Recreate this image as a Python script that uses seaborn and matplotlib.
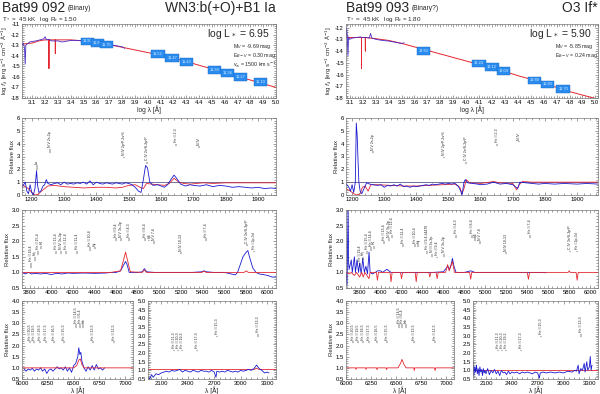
import numpy as np
import pandas as pd
import matplotlib
matplotlib.use("Agg")
import matplotlib.pyplot as plt
import seaborn as sns
from matplotlib.ticker import MultipleLocator, AutoMinorLocator, FormatStrFormatter

sns.set_theme(style="ticks")
plt.rcParams['font.family'] = ['Liberation Sans', 'DejaVu Sans']

RED = "#e3262f"
BLUE = "#1a1ad0"
SEDBLUE = "#4a2cc8"
BOX = "#2b8cf0"

# ---------------- data: SED panels (log lambda, log f) ----------------
sed_l_model_x = [3.02, 3.1, 3.15, 3.2, 3.23, 3.23, 3.23, 3.25, 3.28, 3.28, 3.28, 3.3, 3.4, 3.5, 3.6, 3.7,
                 3.8, 3.9, 4.0, 4.1, 4.2, 4.3, 4.4, 4.5, 4.6, 4.7, 4.8, 4.9, 5.0]
sed_l_model_y = [-12.9, -12.8, -12.6, -12.5, -12.5, -15.2, -12.5, -12.5, -12.5, -13.8, -12.5, -12.5, -12.5,
                 -12.6, -12.8, -12.95, -13.2, -13.45, -13.7, -13.95, -14.25, -14.55, -14.9, -15.25,
                 -15.6, -15.95, -16.3, -16.65, -17.0]
sed_l_obs_x = [3.02, 3.03, 3.04, 3.045, 3.05, 3.06, 3.08, 3.1, 3.13, 3.16, 3.19, 3.2, 3.21, 3.23, 3.25,
               3.3, 3.33, 3.36, 3.4, 3.45, 3.5, 3.55, 3.6, 3.65, 3.7, 3.75, 3.8, 3.82]
sed_l_obs_y = [-13.0, -12.8, -13.3, -14.8, -13.0, -12.9, -12.7, -12.65, -12.6, -12.5, -12.4, -12.2,
               -12.5, -12.45, -12.6, -12.6, -12.7, -12.65, -12.55, -12.55, -12.6, -12.7, -12.75,
               -12.85, -12.95, -13.05, -13.15, -13.3]
sed_l_box_x = [3.53, 3.61, 3.68, 4.08, 4.19, 4.3, 4.52, 4.62, 4.72, 4.88]
sed_l_box_y = [-12.65, -12.8, -12.95, -13.85, -14.2, -14.6, -15.35, -15.65, -16.0, -16.5]
sed_l_box_txt = ["11.90", "11.83", "11.75", "11.52", "11.47", "11.43", "11.38", "11.34", "11.27", "11.10"]

sed_r_model_x = [3.07, 3.1, 3.19, 3.19, 3.19, 3.2, 3.22, 3.22, 3.22, 3.3, 3.4, 3.5, 3.6, 3.7, 3.8, 3.9,
                 4.0, 4.1, 4.2, 4.3, 4.4, 4.5, 4.6, 4.7, 4.8, 4.9, 5.02]
sed_r_model_y = [-12.85, -12.85, -12.85, -15.5, -12.85, -12.85, -12.85, -14.0, -12.85, -12.95, -13.1,
                 -13.35, -13.65, -13.95, -14.25, -14.55, -14.85, -15.15, -15.45, -15.75, -16.1,
                 -16.4, -16.75, -17.1, -17.45, -17.75, -18.1]
sed_r_obs_x = [3.07, 3.075, 3.08, 3.085, 3.09, 3.1, 3.12, 3.15, 3.18, 3.2, 3.23, 3.25, 3.26, 3.27,
               3.3, 3.35, 3.4, 3.45, 3.5, 3.52]
sed_r_obs_y = [-12.9, -12.0, -12.7, -14.4, -12.8, -13.0, -12.9, -12.85, -12.8, -12.85, -12.85, -12.9,
               -12.5, -12.9, -13.0, -13.1, -13.15, -13.25, -13.35, -13.3]
sed_r_box_x = [3.67, 4.1, 4.2, 4.29, 4.53, 4.63, 4.75]
sed_r_box_y = [-14.0, -15.05, -15.35, -15.7, -16.5, -16.85, -17.25]
sed_r_box_txt = ["13.63", "13.24", "13.12", "13.04", "12.89", "12.83", "12.70"]

# ---------------- data: UV panels ----------------
uv_l_obs_x = [1170, 1180, 1185, 1190, 1195, 1200, 1205, 1210, 1215, 1218, 1222, 1228, 1235, 1240, 1245,
              1250, 1260, 1270, 1280, 1290, 1300, 1310, 1320, 1330, 1340, 1350, 1360, 1370, 1380,
              1390, 1400, 1410, 1420, 1430, 1440, 1450, 1460, 1470, 1480, 1490, 1500, 1510, 1520,
              1530, 1538, 1545, 1552, 1558, 1565, 1575, 1590, 1600, 1610, 1620, 1630, 1640, 1648,
              1660, 1675, 1690, 1700, 1720, 1740, 1760, 1780, 1800, 1820, 1840, 1860, 1880, 1900,
              1920, 1940, 1955]
uv_l_obs_y = [0.6, 1.0, 0.3, 0.1, 0.8, 0.2, 0.0, 0.5, 1.9, 0.8, 0.2, 0.3, 0.7, 0.8, 1.2,
              0.9, 0.8, 0.9, 0.95, 0.8, 1.0, 0.85, 0.9, 0.85, 0.95, 0.9, 1.0, 0.85, 1.1,
              0.8, 1.0, 0.9, 0.85, 0.95, 0.9, 0.85, 0.95, 0.9, 0.85, 0.95, 0.9, 0.8, 0.6,
              0.3, 0.2, 1.2, 2.3, 2.1, 1.0, 0.75, 0.8, 0.7, 0.6, 0.8, 1.2, 1.55, 1.3,
              0.85, 0.7, 0.8, 0.75, 0.7, 0.8, 0.65, 0.75, 0.7, 0.6, 0.65, 0.6, 0.55, 0.6,
              0.5, 0.55, 0.5]
uv_l_mod_x = [1170, 1190, 1200, 1210, 1220, 1230, 1240, 1250, 1270, 1300, 1330, 1360, 1400, 1430, 1460,
              1480, 1500, 1520, 1535, 1545, 1555, 1570, 1590, 1610, 1625, 1640, 1655, 1670, 1690,
              1710, 1730, 1760, 1800, 1850, 1900, 1955]
uv_l_mod_y = [0.8, 0.5, 0.2, 0.0, 0.05, 0.3, 0.5, 0.7, 0.75, 0.65, 0.6, 0.55, 0.6, 0.6, 0.55,
              0.6, 0.75, 0.8, 0.6, 0.5, 0.9, 0.85, 0.8, 0.75, 0.9, 1.3, 1.0, 0.9, 0.85,
              0.9, 0.95, 0.9, 0.95, 0.95, 0.95, 0.95]

uv_r_obs_x = [1181, 1190, 1195, 1200, 1205, 1210, 1213, 1216, 1218, 1221, 1225, 1230, 1237, 1245, 1255,
              1265, 1280, 1290, 1300, 1310, 1320, 1330, 1340, 1350, 1360, 1370, 1380, 1390, 1400,
              1410, 1420, 1430, 1440, 1450, 1460, 1470, 1480, 1490, 1500, 1510, 1520, 1530, 1538,
              1542, 1548, 1552, 1560, 1575, 1590, 1600, 1620, 1640, 1660, 1680, 1700, 1715, 1722,
              1740, 1760, 1780, 1800, 1830, 1860, 1900, 1930, 1965]
uv_r_obs_y = [0.9, 0.6, 0.3, 0.8, 0.2, 1.0, 5.6, 4.5, 3.0, 1.0, 0.3, 0.1, 0.5, 0.95, 0.85,
              0.8, 0.75, 0.8, 0.6, 0.75, 0.7, 0.8, 0.7, 0.85, 0.65, 0.7, 0.6, 0.7, 0.65,
              0.7, 0.75, 0.8, 0.75, 0.85, 0.8, 0.85, 0.9, 0.85, 0.9, 0.85, 0.9, 0.7, 0.3,
              0.0, 1.0, 1.2, 0.95, 0.9, 0.85, 0.8, 0.85, 1.0, 0.85, 0.9, 0.8, 0.5, 1.0,
              0.95, 0.9, 0.85, 0.9, 0.85, 0.9, 0.85, 0.9, 0.85]
uv_r_mod_x = [1181, 1195, 1205, 1215, 1225, 1232, 1240, 1250, 1258, 1280, 1320, 1360, 1400, 1440, 1480,
              1520, 1535, 1542, 1548, 1555, 1565, 1600, 1640, 1660, 1700, 1712, 1720, 1730, 1760,
              1800, 1900, 1965]
uv_r_mod_y = [0.5, 0.3, 0.1, 0.0, 0.1, 0.6, 0.7, 0.3, 0.8, 0.8, 0.75, 0.7, 0.7, 0.75, 0.8,
              0.85, 0.6, 0.1, 0.5, 1.2, 0.95, 0.9, 1.05, 0.95, 0.9, 0.4, 0.8, 1.05, 1.0,
              1.0, 1.0, 1.0]

# ---------------- data: optical panels ----------------
op_l_obs_x = [3730, 3760, 3790, 3820, 3850, 3900, 3950, 4000, 4050, 4100, 4150, 4200, 4300, 4400, 4500,
              4550, 4600, 4640, 4670, 4686, 4700, 4720, 4800, 4840, 4860, 4880, 4950, 5100, 5300,
              5390, 5411, 5430, 5500, 5600, 5660, 5700, 5720, 5740, 5770, 5800, 5815, 5830, 5860,
              5890, 5920, 5960, 6000, 6040, 6075]
op_l_obs_y = [1.0, 0.95, 1.0, 0.95, 0.97, 0.95, 0.97, 0.93, 0.97, 0.95, 0.98, 0.97, 0.98, 0.97, 0.98,
              1.0, 1.0, 1.05, 1.25, 1.35, 1.25, 1.0, 1.0, 1.02, 1.12, 1.02, 1.0, 1.0, 1.0,
              1.02, 1.05, 1.02, 1.0, 1.0, 0.95, 0.92, 1.0, 1.2, 1.5, 1.65, 1.7, 1.5, 1.15,
              1.0, 0.95, 0.93, 0.9, 0.85, 0.85]
op_l_mod_x = [3730, 4550, 4640, 4660, 4686, 4710, 4730, 4840, 4860, 4880, 5390, 5411, 5430, 5780, 5800,
              5820, 6075]
op_l_mod_y = [1.0, 1.0, 1.05, 1.3, 1.65, 1.3, 1.02, 1.0, 1.08, 1.0, 1.0, 1.04, 1.0, 1.0, 1.05,
              1.0, 1.0]

op_r_obs_x = [3670, 3680, 3690, 3695, 3700, 3720, 3730, 3750, 3760, 3775, 3790, 3800, 3815, 3830, 3845,
              3860, 3875, 3890, 3900, 3920, 3950, 3970, 4000, 4020, 4040, 4060, 4080, 4100, 4150,
              4200, 4300, 4400, 4500, 4600, 4630, 4640, 4655, 4670, 4686, 4700, 4720, 4800, 4860,
              4900, 5400, 5500, 5580]
op_r_obs_y = [1.0, 0.6, 3.1, 1.3, 1.1, 1.4, 1.0, 1.5, 1.0, 1.4, 1.0, 1.3, 0.95, 1.45, 1.0,
              1.2, 0.95, 1.65, 1.0, 0.95, 1.0, 1.05, 1.05, 1.0, 1.05, 1.1, 1.05, 1.0, 1.0,
              0.99, 1.0, 1.0, 1.0, 1.02, 1.15, 1.2, 1.1, 1.2, 1.45, 1.2, 1.0, 1.0, 1.05,
              1.0, 1.0, 1.0, 0.99]
op_r_mod_x = [3670, 3700, 3720, 3750, 3770, 3800, 3820, 3835, 3850, 3889, 3900, 3960, 3970, 3980, 4090,
              4100, 4110, 4190, 4200, 4210, 4330, 4340, 4350, 4460, 4470, 4480, 4530, 4540, 4550,
              4620, 4640, 4655, 4686, 4705, 4850, 4860, 4870, 5400, 5411, 5422, 5790, 5800, 5810,
              5866, 5876, 5886, 6075]
op_r_mod_y = [1.0, 0.95, 1.0, 0.9, 1.0, 0.85, 1.0, 0.85, 1.0, 0.8, 1.0, 1.0, 0.75, 1.0, 1.0,
              0.7, 1.0, 1.0, 0.8, 1.0, 1.0, 0.7, 1.0, 1.0, 0.85, 1.0, 1.0, 0.8, 1.0,
              1.0, 1.25, 1.05, 1.35, 1.0, 1.0, 0.78, 1.0, 1.0, 0.78, 1.0, 1.0, 1.05, 1.0,
              1.0, 0.75, 1.0, 1.0]

# ---------------- data: H-alpha panels ----------------
ha_l_obs_x = [6020, 6040, 6060, 6080, 6100, 6120, 6140, 6160, 6180, 6200, 6220, 6240, 6260, 6280, 6300,
              6320, 6340, 6360, 6380, 6400, 6420, 6440, 6460, 6480, 6500, 6520, 6540, 6550, 6560,
              6570, 6580, 6600, 6620, 6640, 6660, 6680, 6700, 6720, 6740, 6760, 6780, 6800]
ha_l_obs_y = [0.95, 0.85, 0.95, 0.9, 0.98, 0.85, 0.95, 0.9, 1.0, 0.85, 0.95, 0.75, 0.9, 0.95, 0.85,
              0.95, 1.05, 0.95, 1.0, 0.9, 1.05, 0.85, 1.0, 0.8, 1.1, 1.2, 1.5, 1.9, 1.6,
              1.7, 1.3, 1.0, 0.85, 1.05, 0.9, 1.1, 0.9, 1.15, 0.95, 1.0, 0.9, 1.0]
ha_l_mod_x = [6000, 6500, 6530, 6550, 6565, 6580, 6600, 7075]
ha_l_mod_y = [1.0, 1.0, 1.1, 1.35, 1.4, 1.15, 1.0, 1.0]

ha_r_mod_x = [6000, 6095, 6100, 6105, 6195, 6200, 6205, 6305, 6310, 6315, 6400, 6406, 6412, 6520, 6545,
              6560, 6575, 6600, 6678, 6683, 6688, 6885, 6891, 6897, 7080]
ha_r_mod_y = [1.0, 1.0, 0.93, 1.0, 1.0, 0.93, 1.0, 1.0, 0.92, 1.0, 1.0, 0.92, 1.0, 1.0, 1.2,
              1.38, 1.2, 1.0, 1.0, 0.88, 1.0, 1.0, 0.88, 1.0, 1.0]

# ---------------- data: near-IR panels ----------------
ir_l_obs_x = [1950, 1970, 1990, 2010, 2040, 2070, 2100, 2130, 2160, 2190, 2220, 2250, 2280, 2310, 2340,
              2370, 2400, 2430, 2460, 2490, 2520, 2550, 2580, 2610, 2640, 2670, 2700, 2720, 2730,
              2760, 2790, 2820, 2850, 2880, 2910, 2940, 2970, 3000, 3030, 3060, 3090, 3120, 3150,
              3180, 3210, 3240, 3270, 3300, 3320]
ir_l_obs_y = [0.6, 0.5, 0.75, 0.6, 0.8, 0.75, 0.85, 0.9, 0.95, 0.9, 1.0, 0.95, 1.0, 1.05, 0.9,
              1.0, 0.95, 0.9, 1.0, 0.95, 0.9, 1.0, 0.95, 0.95, 0.9, 1.0, 0.9, 0.6, 0.95,
              0.9, 0.95, 0.9, 1.0, 0.95, 0.9, 0.95, 0.9, 1.0, 0.95, 1.0, 1.05, 1.0, 1.1,
              1.3, 1.1, 1.0, 0.85, 0.9, 0.85]
ir_l_mod_x = [1950, 3150, 3180, 3210, 3400]
ir_l_mod_y = [1.05, 1.05, 1.12, 1.05, 1.05]

ir_r_obs_x = [1950, 1960, 1970, 1980, 1990, 2000, 2010, 2020, 2030, 2040, 2050, 2060, 2070, 2080, 2090,
              2100, 2120, 2140, 2160, 2180, 2200, 2220, 2240, 2260, 2280, 2300, 2320, 2340, 2360,
              2380, 2400, 2430, 2460, 2490, 2520, 2550, 2580, 2610, 2640, 2670, 2700, 2720, 2730,
              2760, 2800, 2850, 2900, 2950, 3000, 3050, 3100, 3130, 3150, 3170, 3180, 3200, 3220,
              3240, 3250, 3270, 3280, 3300, 3310, 3320, 3330]
ir_r_obs_y = [1.5, 0.7, 1.2, 0.9, 1.3, 0.8, 1.1, 0.7, 1.2, 0.9, 1.05, 0.7, 1.1, 0.85, 1.0,
              0.8, 1.1, 0.75, 1.0, 0.85, 1.05, 0.8, 0.95, 0.7, 1.0, 0.85, 0.9, 0.75, 0.95,
              0.8, 0.9, 0.85, 0.9, 0.8, 0.9, 0.85, 0.9, 0.85, 0.8, 0.9, 0.85, 0.55, 0.85,
              0.9, 0.85, 0.9, 0.85, 0.9, 0.85, 0.95, 0.9, 1.0, 0.95, 1.3, 0.8, 1.1, 1.0,
              1.4, 0.9, 1.5, 1.0, 1.2, 1.8, 1.0, 1.3]
ir_r_mod_x = [1950, 3400]
ir_r_mod_y = [1.0, 1.0]

# ---------------- line identifications (x, y line start, y text start, label) ----------------
uv_l_ids = [(1215, 1.95, 2.3, "Lα"), (1255, 3.3, 3.6, "N V 2s-2p"), (1486, 2.9, 3.0, "N IV 2p¹P-2s¹S"),
            (1555, 2.4, 2.6, "C IV 2s²S-2p²P"), (1645, 3.8, 4.0, "He II 2-3"), (1718, 3.7, 3.8, "N IV")]
uv_r_ids = [(1265, 3.3, 3.4, "N V 2s-2p"), (1486, 2.9, 3.0, "N IV 2p¹P-2s¹S"),
            (1555, 2.4, 2.6, "C IV 2s²S-2p²P"), (1650, 3.8, 4.0, "He II 2-3"), (1718, 4.1, 4.2, "N IV")]
op_l_ids = [(3813, 1.15, 1.3, "He II 19-4"), (3850, 1.35, 1.5, "Hη"), (3880, 1.55, 1.7, "He II 15-4"),
            (3910, 1.75, 1.85, "Hζ"), (4040, 1.6, 1.7, "He II 13-4"), (4090, 1.6, 1.7, "N IV 3s-3p"),
            (4140, 1.6, 1.7, "He II 12-4"), (4240, 1.6, 1.7, "He II 11-4"), (4360, 1.7, 1.8, "He II 10-4"),
            (4400, 1.75, 1.8, "Hγ"), (4600, 2.0, 2.1, "He II 9-4"), (4645, 2.0, 2.1, "N V 3s-3p"),
            (4720, 2.0, 2.1, "He II 4-3"), (4870, 2.0, 2.1, "He II 8-4"), (4905, 2.0, 2.05, "Hβ"),
            (4945, 1.9, 2.0, "N V 7-6"), (5200, 1.6, 1.65, "N IV 10-13"), (5425, 2.0, 2.1, "He II 7-4"),
            (5808, 1.85, 1.9, "C IV 3s²S-3p²P"), (5876, 1.65, 1.7, "He I 2p-3d")]
op_r_ids = [(3800, 1.2, 1.3, "He II 19-4"), (3830, 1.4, 1.5, "Hη"), (3870, 1.6, 1.7, "He II 15-4"),
            (3905, 1.7, 1.8, "He II 14-4"), (3935, 1.75, 1.85, "Hζ"), (4030, 1.9, 2.0, "He II 13-4"),
            (4080, 2.0, 2.1, "N IV 3s-3p"), (4110, 2.1, 2.2, "He II 12-4"), (4210, 1.8, 1.9, "He II 11-4"),
            (4330, 1.8, 1.9, "He II 10-4"), (4360, 1.8, 1.9, "Hγ"), (4440, 1.6, 1.7, "He II 9-4 λ4470"),
            (4490, 1.5, 1.6, "N III 3s-3p"), (4540, 1.45, 1.5, "He II 9-4"), (4605, 1.5, 1.6, "N V 3s-3p"),
            (4720, 2.1, 2.2, "He II 4-3"), (4870, 2.1, 2.2, "He II 8-4"), (4905, 2.0, 2.1, "Hβ"),
            (4945, 1.9, 2.0, "N V 7-6"), (5200, 1.6, 1.65, "N IV 10-13"), (5425, 2.1, 2.2, "He II 7-4"),
            (5808, 1.65, 1.7, "C IV 3s²S-3p²P"), (5876, 1.65, 1.7, "He I 2p-3d")]
ha_ids = [(6074, 2.1, 2.2, "He II 20-5"), (6118, 2.1, 2.2, "He II 19-5"), (6171, 2.1, 2.2, "He II 18-5"),
          (6233, 2.1, 2.2, "He II 17-5"), (6311, 2.1, 2.2, "He II 16-5"), (6406, 2.1, 2.2, "He II 15-5"),
          (6527, 2.8, 2.95, "He II 14-5"), (6560, 2.8, 2.95, "He II 6-4"), (6595, 2.8, 2.95, "Hα"),
          (6683, 2.1, 2.2, "He II 13-5"), (6891, 2.1, 2.2, "He II 12-5")]
ir_ids = [(2240, 2.1, 2.2, "He II 21-3"), (2285, 2.1, 2.2, "He II 20-3"), (2335, 2.1, 2.2, "He II 19-3"),
          (2510, 2.1, 2.2, "He II 17-3"), (2735, 2.9, 3.0, "He II 15-3"), (3200, 2.9, 3.1, "He II 13-3")]


def rect(x0, y0, x1, y1):
    return [x0 / 600, 1 - y1 / 394, (x1 - x0) / 600, (y1 - y0) / 394]


def line(ax, xs, ys, color, lw=0.6):
    df = pd.DataFrame({"x": xs, "y": ys})
    sns.lineplot(data=df, x="x", y="y", ax=ax, color=color, lw=lw,
                 estimator=None, sort=False)


def style(ax, xlim, ylim, xmaj, ymaj, xfmt, yfmt, ylabel=None, xlabel=None):
    ax.set_xlim(*xlim)
    ax.set_ylim(*ylim)
    ax.xaxis.set_major_locator(MultipleLocator(xmaj))
    ax.yaxis.set_major_locator(MultipleLocator(ymaj))
    ax.xaxis.set_minor_locator(AutoMinorLocator(5))
    ax.yaxis.set_minor_locator(AutoMinorLocator(5))
    ax.xaxis.set_major_formatter(FormatStrFormatter(xfmt))
    ax.yaxis.set_major_formatter(FormatStrFormatter(yfmt))
    ax.tick_params(which="both", direction="in", top=True, right=True, labelsize=4.3,
                   pad=1.5, width=0.4, colors="#555555", labelcolor="black")
    ax.tick_params(which="major", length=2.2)
    ax.tick_params(which="minor", length=1.1)
    for s in ax.spines.values():
        s.set_linewidth(0.5)
        s.set_color("#777777")
    ax.set_xlabel(xlabel if xlabel else "", fontsize=4.8, labelpad=0.5)
    ax.set_ylabel(ylabel if ylabel else "", fontsize=4.3, labelpad=1)


def ids(ax, items):
    for x, y0, y1, lab in items:
        ax.plot([x, x], [y0, y1], color="black", lw=0.35)
        ax.text(x, y1 + 0.02 * (ax.get_ylim()[1] - ax.get_ylim()[0]), lab, rotation=90, fontsize=2.5,
                ha="center", va="bottom")


fig = plt.figure(figsize=(6, 3.94), dpi=100)
renderer = fig.canvas.get_renderer()

stars = [
    dict(x0=22, x1=276, name="Bat99 092", note="(Binary)", sp="WN3:b(+O)+B1 Ia",
         params="T$_*$ =  45 kK   log R$_t$ = 1.50", logL="log L$_*$ = 6.95",
         extra=["M$_V$ = -9.69 mag", "E$_{B-V}$ = 0.30 mag", "v$_\\infty$ = 1500 km s$^{-1}$"],
         sed=(sed_l_model_x, sed_l_model_y, sed_l_obs_x, sed_l_obs_y, sed_l_box_x, sed_l_box_y, sed_l_box_txt),
         sedlim=((3.02, 5.0), (-18, -11)),
         uv=(uv_l_obs_x, uv_l_obs_y, uv_l_mod_x, uv_l_mod_y), uvlim=(1170, 1955), uvids=uv_l_ids,
         op=(op_l_obs_x, op_l_obs_y, op_l_mod_x, op_l_mod_y), oplim=(3730, 6075), opids=op_l_ids,
         ha=(ha_l_obs_x, ha_l_obs_y, ha_l_mod_x, ha_l_mod_y), halim=(6000, 7075),
         ir=(ir_l_obs_x, ir_l_obs_y, ir_l_mod_x, ir_l_mod_y), bsplit=(133, 148), tx=2),
    dict(x0=346, x1=598, name="Bat99 093", note="(Binary?)", sp="O3 If*",
         params="T$_*$ =  45 kK   log R$_t$ = 1.80", logL="log L$_*$ = 5.90",
         extra=["M$_V$ = -5.85 mag", "E$_{B-V}$ = 0.24 mag"],
         sed=(sed_r_model_x, sed_r_model_y, sed_r_obs_x, sed_r_obs_y, sed_r_box_x, sed_r_box_y, sed_r_box_txt),
         sedlim=((3.07, 5.02), (-18, -11.7)),
         uv=(uv_r_obs_x, uv_r_obs_y, uv_r_mod_x, uv_r_mod_y), uvlim=(1181, 1965), uvids=uv_r_ids,
         op=(op_r_obs_x, op_r_obs_y, op_r_mod_x, op_r_mod_y), oplim=(3670, 6075), opids=op_r_ids,
         ha=(None, None, ha_r_mod_x, ha_r_mod_y), halim=(6000, 7080),
         ir=(ir_r_obs_x, ir_r_obs_y, ir_r_mod_x, ir_r_mod_y), bsplit=(454, 473), tx=346),
]

for st in stars:
    x0, x1 = st["x0"], st["x1"]
    # header
    t = fig.text(st["tx"] / 600, 1 - 12 / 394, st["name"], fontsize=10, ha="left", va="baseline")
    tw = t.get_window_extent(renderer).x1
    fig.text((tw + 2) / 600, 1 - 10.5 / 394, st["note"], fontsize=4.8, ha="left", va="baseline")
    fig.text(x1 / 600, 1 - 12 / 394, st["sp"], fontsize=10, ha="right", va="baseline")
    fig.text(st["tx"] / 600, 1 - 20.5 / 394, st["params"], fontsize=4.5, ha="left", va="baseline")

    # SED
    ax = fig.add_axes(rect(x0, 24, x1, 98))
    mx, my, ox, oy, bx, by, bt = st["sed"]
    line(ax, mx, my, RED, 0.7)
    line(ax, ox, oy, SEDBLUE, 0.6)
    for xx, yy, tt in zip(bx, by, bt):
        ax.text(xx, yy, tt, fontsize=2.8, color="#dbeeff", ha="center", va="center",
                bbox=dict(boxstyle="square,pad=0.45", fc=BOX, ec="#1565c0", lw=0.3))
    style(ax, st["sedlim"][0], st["sedlim"][1], 0.1, 1, "%.1f", "%d",
          ylabel="log $f_\\lambda$ [erg s$^{-1}$ cm$^{-2}$ Å$^{-1}$]", xlabel="log λ [Å]")
    ax.text(0.975, 0.87, st["logL"], transform=ax.transAxes, fontsize=7.5, ha="right", va="center")
    for i, e in enumerate(st["extra"]):
        ax.text(0.83, 0.70 - i * 0.12, e, transform=ax.transAxes, fontsize=3.8, ha="left", va="center")

    # UV
    ax = fig.add_axes(rect(x0, 118, x1, 195))
    ax.axhline(1, color="#3a3a7a", lw=0.5)
    obx, oby, mdx, mdy = st["uv"]
    line(ax, mdx, mdy, RED, 0.6)
    line(ax, obx, oby, BLUE, 0.6)
    style(ax, st["uvlim"], (0, 6), 100, 1, "%d", "%d", ylabel="Relative flux")
    ids(ax, st["uvids"])

    # optical
    ax = fig.add_axes(rect(x0, 210, x1, 288))
    obx, oby, mdx, mdy = st["op"]
    line(ax, obx, oby, BLUE, 0.6)
    line(ax, mdx, mdy, RED, 0.6)
    style(ax, st["oplim"], (0.5, 3.0), 200, 0.5, "%d", "%.1f", ylabel="Relative flux")
    ids(ax, st["opids"])

    # H-alpha
    s0, s1 = st["bsplit"]
    ax = fig.add_axes(rect(x0, 301, s0, 379))
    obx, oby, mdx, mdy = st["ha"]
    if obx is not None:
        line(ax, obx, oby, BLUE, 0.6)
    line(ax, mdx, mdy, RED, 0.6)
    style(ax, st["halim"], (0.5, 4.0), 250, 0.5, "%d", "%.1f", ylabel="Relative flux", xlabel="λ [Å]")
    ids(ax, ha_ids)

    # near IR
    ax = fig.add_axes(rect(s1, 301, x1, 379))
    obx, oby, mdx, mdy = st["ir"]
    line(ax, mdx, mdy, RED, 0.6)
    line(ax, obx, oby, BLUE, 0.6)
    style(ax, (1950, 3400), (0.5, 5.0), 300, 0.5, "%d", "%.1f", xlabel="λ [Å]")
    ids(ax, ir_ids)

fig.savefig("out.png", dpi=100)
